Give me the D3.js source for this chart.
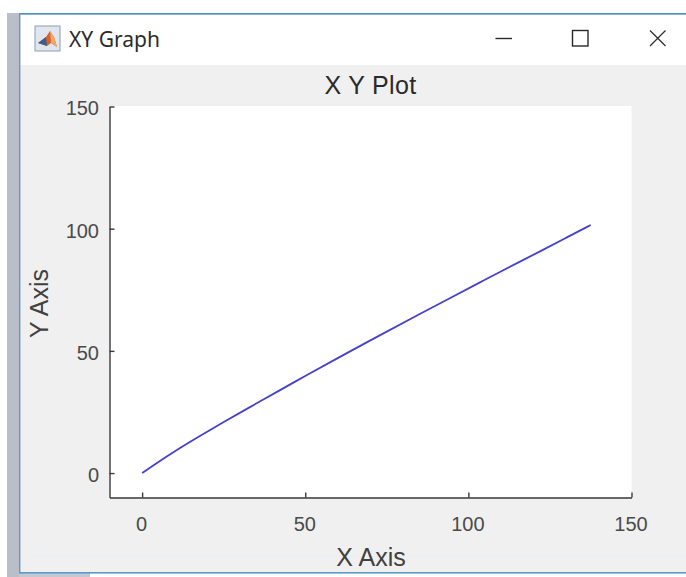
<!DOCTYPE html>
<html><head><meta charset="utf-8">
<script src="https://cdn.jsdelivr.net/npm/d3@7"></script>
<style>html,body{margin:0;padding:0;background:#fff;overflow:hidden}svg{display:block}</style>
</head><body><svg id="c" width="686" height="577"></svg>
<script>
const windowTitle = "XY Graph", chartTitle = "X Y Plot", xLabel = "X Axis", yLabel = "Y Axis";
const xTicks = [0, 50, 100, 150];
const yTicks = [0, 50, 100, 150];
const xValues = [0, 5, 10, 15.4, 20, 25, 31.7, 42.4, 50, 60, 73, 85, 95, 103.5, 109.7, 122.8, 130, 137.5];
const yValues = [0, 4.6, 8.9, 13.3, 17, 20.9, 26, 34, 39.8, 47.1, 56.5, 65, 72, 78, 82.3, 91.3, 96.3, 101.5];

const svg = d3.select("#c");
const font = "'Liberation Sans', Arial, sans-serif";
const rect = (x, y, w, h, fill) => svg.append("rect").attr("x", x).attr("y", y).attr("width", w).attr("height", h).attr("fill", fill);

// window chrome
rect(7, 13, 13, 564, "#b9bec8");
rect(19, 573, 71, 4, "#c4c8d0");
rect(19, 14, 667, 559, "#f0f0f0");
rect(20, 15, 666, 50, "#ffffff");
rect(19, 13, 667, 1.6, "#4a8fc4");
rect(19, 13, 1.4, 560, "#5a9cc8");
rect(19, 572, 667, 1.6, "#5a9cc8");
rect(28, 556, 658, 1.5, "#ebeff2");

// title bar icon
const icon = svg.append("g");
icon.append("rect").attr("x", 35).attr("y", 26).attr("width", 25).attr("height", 25).attr("fill", "#dfe6ee").attr("stroke", "#8b9db2").attr("stroke-width", 1);
icon.append("path").attr("d", "M38 43 L46 37 L50 31 L54 37 L57 47 L51 43 L47 46 Z").attr("fill", "#d9622b");
icon.append("path").attr("d", "M38 43 L46 37 L47 46 Z").attr("fill", "#3d5f8f");
icon.append("path").attr("d", "M50 31 L54 37 L57 47 L51 43 Z").attr("fill", "#f0a66b");

svg.append("text").attr("x", 69).attr("y", 46.5).attr("font-family", "'Noto Sans', sans-serif").attr("font-size", 21).attr("fill", "#2b2b2b").text(windowTitle);

// window buttons
const btn = svg.append("g").attr("fill", "none").attr("stroke", "#2a2a2a").attr("stroke-width", 1.4);
btn.append("path").attr("d", "M495.5 38.5H512");
btn.append("rect").attr("x", 572.5).attr("y", 30.5).attr("width", 15.5).attr("height", 15.5);
btn.append("path").attr("d", "M650 30.5L665.5 46M665.5 30.5L650 46").attr("stroke-width", 1.2);

// plot
const x = d3.scaleLinear().domain([-10, 150]).range([109.5, 631.5]);
const y = d3.scaleLinear().domain([-10, 150]).range([497.5, 106.5]);
rect(109.5, 106, 522, 391, "#ffffff");

const xAxis = svg.append("g").attr("transform", "translate(0,497.5)")
  .call(d3.axisBottom(x).tickValues(xTicks).tickSize(-5).tickPadding(19).tickSizeOuter(0));
const yAxis = svg.append("g").attr("transform", "translate(109.5,0)")
  .call(d3.axisLeft(y).tickValues(yTicks).tickSize(-5).tickPadding(10.5).tickSizeOuter(0));
[xAxis, yAxis].forEach(a => {
  a.selectAll("path,line").attr("stroke", "#3a3a3a").attr("stroke-width", 1.4);
  a.selectAll("text").attr("font-family", font).attr("font-size", 20).attr("fill", "#4a4a4a");
});
yAxis.selectAll("text").attr("dy", "0.42em");
xAxis.selectAll("text").attr("dx", -1);

const line = d3.line().x((d, i) => x(xValues[i])).y(d => y(d)).curve(d3.curveBasis);
svg.append("path").datum(yValues).attr("d", line).attr("fill", "none").attr("stroke", "#4442cc").attr("stroke-width", 1.8);

svg.append("text").attr("x", 370.5).attr("y", 94).attr("text-anchor", "middle").attr("font-family", font).attr("font-size", 25).attr("letter-spacing", 0.3).attr("fill", "#2a2a2a").text(chartTitle);
svg.append("text").attr("x", 371).attr("y", 566).attr("text-anchor", "middle").attr("font-family", font).attr("font-size", 25).attr("fill", "#404040").text(xLabel);
svg.append("text").attr("transform", "translate(48,303.5) rotate(-90)").attr("text-anchor", "middle").attr("font-family", font).attr("font-size", 25).attr("fill", "#404040").text(yLabel);
</script></body></html>
